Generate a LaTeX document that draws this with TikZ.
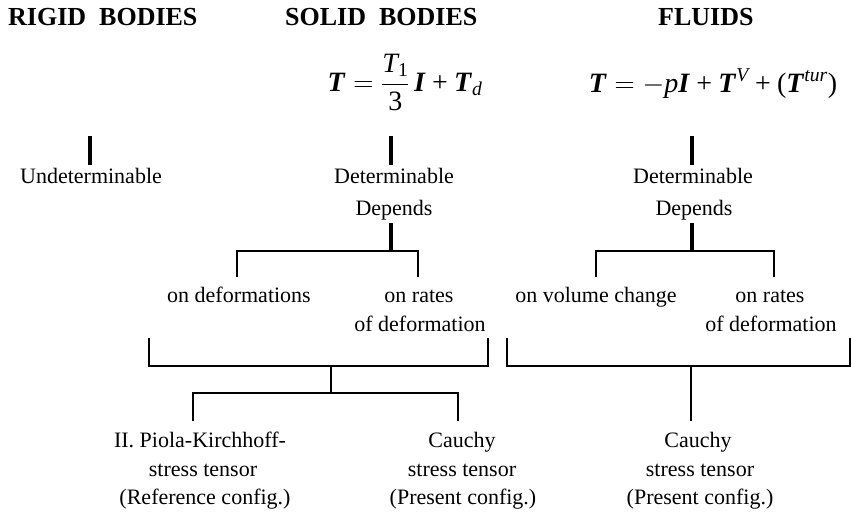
\RequirePackage{fix-cm}
\documentclass[tikz,border=0pt]{standalone}
\usepackage{amsmath}
\usepackage{fontspec}
\setmainfont{Liberation Serif}
\newcommand{\bfit}[1]{\textbf{\textit{#1}}}
\tikzset{
  lbl/.style={anchor=base, inner sep=0pt, font=\fontsize{22}{26}\selectfont},
  ttl/.style={anchor=base west, inner sep=0pt, font=\fontsize{26}{30}\selectfont\bfseries},
  eqn/.style={anchor=base, inner sep=0pt, font=\fontsize{28}{34}\selectfont},
  bar/.style={line width=3.4pt},
  brk/.style={line width=2.2pt, line join=miter},
}
\begin{document}
\begin{tikzpicture}[x=1pt,y=-1pt]
\useasboundingbox[fill=white] (0,0) rectangle (851,512);

% column headings
\node[ttl] (rigid) at (8,25) {RIGID\ \ BODIES};
\node[ttl] (solid) at (285,25) {SOLID\ \ BODIES};
\node[ttl] (fluid) at (658,25) {FLUIDS};

% constitutive forms of the stress tensor
\node[eqn] (eqs) at (405,91)
  {$\bfit{T} = \dfrac{\textit{T}_{\text{1}}}{\text{3}}\,\bfit{I} \mathbin{\text{+}} \bfit{T}_{\textit{d}}$};
\node[eqn] (eqf) at (713,92)
  {$\bfit{T} = -\textit{p}\bfit{I} \mathbin{\text{+}} \bfit{T}^{\textit{V}} \mathbin{\text{+}} \text{(}\bfit{T}^{\textit{tur}}\text{)}$};

% first level
\node[lbl] (undet) at (91,183) {Undeterminable};
\node[lbl] (sdet) at (394,183) {Determinable};
\node[lbl] (sdep) at (394,215) {Depends};
\node[lbl] (fdet) at (693,183) {Determinable};
\node[lbl] (fdep) at (694,215) {Depends};

% dependence
\node[lbl] (sdef) at (239,302) {on deformations};
\node[lbl] (srate) at (419,302) {on rates};
\node[lbl] (srate2) at (420,331) {of deformation};
\node[lbl] (fvol) at (596,302) {on volume change};
\node[lbl] (frate) at (770,302) {on rates};
\node[lbl] (frate2) at (771,331) {of deformation};

% stress measures
\node[lbl] (pk) at (200,447) {II. Piola-Kirchhoff-};
\node[lbl] (pk2) at (203,476) {stress tensor};
\node[lbl] (pk3) at (205,504) {(Reference config.)};
\node[lbl] (sc) at (462,447) {Cauchy};
\node[lbl] (sc2) at (462,476) {stress tensor};
\node[lbl] (sc3) at (463,504) {(Present config.)};
\node[lbl] (fc) at (698,447) {Cauchy};
\node[lbl] (fc2) at (700,476) {stress tensor};
\node[lbl] (fc3) at (700,504) {(Present config.)};

% junction points of the tree
\coordinate (rtop) at (90,136);
\coordinate (stop) at (391,136);
\coordinate (ftop) at (692,136);
\coordinate (sJ) at (391,251);
\coordinate (sA) at (237,277);
\coordinate (sB) at (418,277);
\coordinate (fJ) at (692,251);
\coordinate (fA) at (596,277);
\coordinate (fB) at (774,277);
\coordinate (lA) at (149,338);
\coordinate (lB) at (488,338);
\coordinate (lJ) at (331,366);
\coordinate (lK) at (331,393);
\coordinate (bA) at (193,421);
\coordinate (bB) at (458,421);
\coordinate (gA) at (507,338);
\coordinate (gB) at (850,338);
\coordinate (gJ) at (691,366);
\coordinate (gK) at (691,421);

% heavy ticks
\draw[bar] (rtop) -- (rtop |- 0,165);
\draw[bar] (stop) -- (stop |- 0,165);
\draw[bar] (ftop) -- (ftop |- 0,165);
\draw[bar] (sJ |- 0,223) -- (sJ);
\draw[bar] (fJ |- 0,223) -- (fJ);

% upper brackets
\draw[brk] (sA) |- (sJ) -| (sB);
\draw[brk] (fA) |- (fJ) -| (fB);

% lower brackets
\draw[brk] (lA) |- (lJ) -| (lB);
\draw[brk] (lJ) -- (lK);
\draw[brk] (bA) |- (lK) -| (bB);
\draw[brk] (gA) |- (gJ) -| (gB);
\draw[brk] (gJ) -- (gK);
\end{tikzpicture}
\end{document}
